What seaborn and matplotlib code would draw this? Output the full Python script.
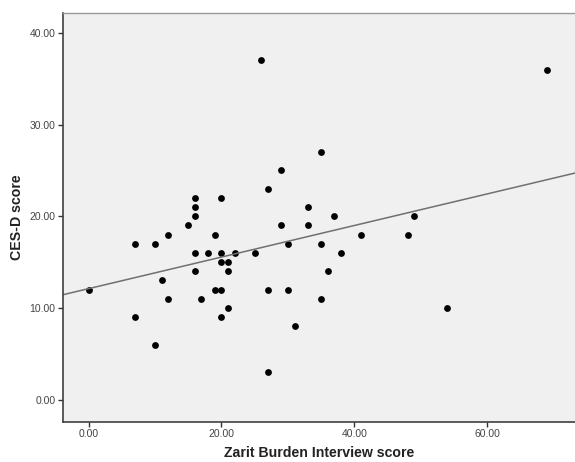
import numpy as np
import pandas as pd
import matplotlib
matplotlib.use("Agg")
import matplotlib.pyplot as plt
import seaborn as sns

##### DATA
zarit = [0, 7, 10, 12, 7, 10, 11, 12, 15, 16,
         16, 16, 16, 16, 18, 17, 19, 20, 20, 20,
         21, 21, 22, 19, 20, 21, 20, 25, 27, 29,
         27, 30, 29, 30, 31, 27, 33, 33, 35, 37,
         35, 41, 38, 36, 49, 48, 35, 54, 26, 69]
cesd = [12, 17, 17, 18, 9, 6, 13, 11, 19, 22,
        21, 20, 16, 14, 16, 11, 18, 22, 16, 15,
        15, 14, 16, 12, 12, 10, 9, 16, 23, 25,
        12, 17, 19, 12, 8, 3, 21, 19, 27, 20,
        17, 18, 16, 14, 20, 18, 11, 10, 37, 36]

xTicks = [0, 20, 40, 60]
yTicks = [0, 10, 20, 30, 40]
xLabel = "Zarit Burden Interview score"
yLabel = "CES-D score"

df = pd.DataFrame({"zarit": zarit, "cesd": cesd})

##### STYLE
sns.set_style("ticks")
plt.rcParams["font.family"] = ["Liberation Sans", "DejaVu Sans"]

fig = plt.figure(figsize = (5.75, 4.62), dpi = 100)
#plot area runs off the right edge like the original screenshot
ax = fig.add_axes([0.110, 0.0872, 0.890, 0.8853])
ax.set_facecolor("#f0f0f0")

#limits first so the fit line runs edge to edge
ax.set_xlim(-3.8, 73.2)
ax.set_ylim(-2.4, 42.2)

sns.regplot(x = "zarit", y = "cesd", data = df, ax = ax, ci = None, truncate = False,
            scatter_kws = {"s": 24, "color": "black", "linewidths": 0, "alpha": 1},
            line_kws = {"color": "#707070", "linewidth": 1.1})

ax.set_xlim(-3.8, 73.2)
ax.set_ylim(-2.4, 42.2)
ax.set_xticks(xTicks)
ax.set_yticks(yTicks)
ax.set_xticklabels(["%.2f" % v for v in xTicks])
ax.set_yticklabels(["%.2f" % v for v in yTicks])
ax.tick_params(axis = "both", labelsize = 7.5, labelcolor = "#444444", color = "#333333",
               length = 3.5, width = 1, direction = "out", pad = 2)

ax.set_xlabel(xLabel, fontsize = 10.2, fontweight = "bold", color = "#222222", labelpad = 5)
ax.set_ylabel(yLabel, fontsize = 10.2, fontweight = "bold", color = "#222222", labelpad = 4)

for side in ["left", "bottom"]:
    ax.spines[side].set_color("#404040")
    ax.spines[side].set_linewidth(1.2)
ax.spines["top"].set_visible(True)
ax.spines["top"].set_color("#9a9a9a")
ax.spines["top"].set_linewidth(1.0)
ax.spines["right"].set_visible(False)

plt.savefig("out.png", dpi = 100)
